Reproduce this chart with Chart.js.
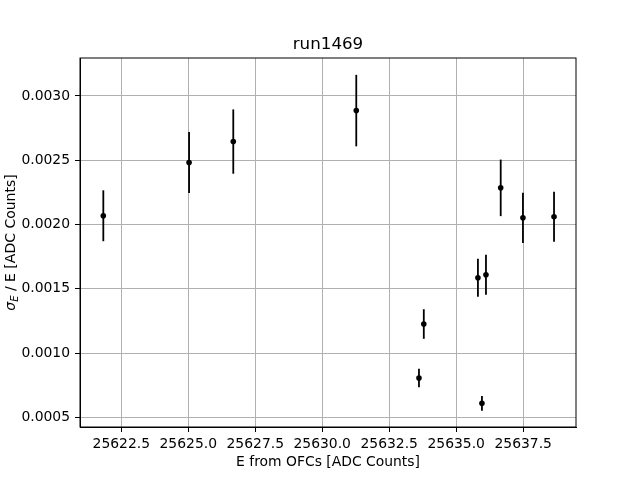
<!DOCTYPE html>
<html>
<head>
<meta charset="utf-8">
<script src="https://cdn.jsdelivr.net/npm/chart.js@4/dist/chart.umd.min.js"></script>
<style>
  html, body { margin: 0; padding: 0; background: #fff; }
  #wrap { width: 640px; height: 480px; }
</style>
</head>
<body>
<div id="wrap"><canvas id="myChart" width="640" height="480"></canvas></div>
<script>
// values
const energies = [25621.83, 25625.03, 25626.68, 25631.27, 25633.61, 25633.79,
                  25635.81, 25635.96, 25636.11, 25636.66, 25637.49, 25638.65];
const resolution = [0.002068, 0.002482, 0.002645, 0.002886, 0.000806, 0.001226,
                    0.001586, 0.000609, 0.001609, 0.002285, 0.002052, 0.002060];
const resolutionErr = [0.000198, 0.000237, 0.000250, 0.000278, 0.000072, 0.000115,
                       0.000147, 0.000058, 0.000156, 0.000220, 0.000195, 0.000195];

const xTicks = [25622.5, 25625.0, 25627.5, 25630.0, 25632.5, 25635.0, 25637.5];
const yTicks = [0.0005, 0.0010, 0.0015, 0.0020, 0.0025, 0.0030];

const FONT = "'DejaVu Sans', sans-serif";
const TITLE = "run1469";

const points = energies.map((e, i) => ({ x: e, y: resolution[i] }));

// vertical error bars, drawn through the chart scales
const errorBars = {
  id: "errorBars",
  beforeDatasetsDraw(chart) {
    const { ctx, scales } = chart;
    ctx.save();
    ctx.strokeStyle = "#000";
    ctx.lineWidth = 1.8;
    points.forEach((p, i) => {
      const px = scales.x.getPixelForValue(p.x);
      const y1 = scales.y.getPixelForValue(p.y - resolutionErr[i]);
      const y2 = scales.y.getPixelForValue(p.y + resolutionErr[i]);
      ctx.beginPath();
      ctx.moveTo(px, y1);
      ctx.lineTo(px, y2);
      ctx.stroke();
    });
    ctx.restore();
  },
};

// title centred over the plot area, and y label with subscript
const texts = {
  id: "texts",
  afterDraw(chart) {
    const { ctx, chartArea } = chart;
    ctx.save();
    ctx.fillStyle = "#000";
    ctx.textAlign = "center";
    ctx.textBaseline = "alphabetic";
    ctx.font = "16.7px " + FONT;
    ctx.fillText(TITLE, (chartArea.left + chartArea.right) / 2, 49);
    ctx.restore();

    const cy = (chartArea.top + chartArea.bottom) / 2;
    ctx.save();
    ctx.translate(15, cy);
    ctx.rotate(-Math.PI / 2);
    ctx.fillStyle = "#000";
    ctx.textBaseline = "alphabetic";
    const big = "14px " + FONT;
    const bigIt = "italic 14px " + FONT;
    const small = "italic 10px " + FONT;
    const rest = " / E [ADC Counts]";
    ctx.font = bigIt; const w1 = ctx.measureText("σ").width;
    ctx.font = small; const w2 = ctx.measureText("E").width;
    ctx.font = big; const w3 = ctx.measureText(rest).width;
    let x = -(w1 + w2 + w3) / 2;
    ctx.font = bigIt; ctx.fillText("σ", x, 0); x += w1;
    ctx.font = small; ctx.fillText("E", x, 3); x += w2;
    ctx.font = big; ctx.fillText(rest, x, 0);
    ctx.restore();
  },
};

const ctx = document.getElementById("myChart");

new Chart(ctx, {
  type: "scatter",
  data: {
    datasets: [
      {
        data: points,
        backgroundColor: "#000",
        borderColor: "#000",
        borderWidth: 0,
        pointRadius: 2.8,
        pointHoverRadius: 2.8,
      },
    ],
  },
  options: {
    responsive: false,
    animation: false,
    layout: { padding: { left: 0, right: 64, top: 58, bottom: 0 } },
    plugins: {
      legend: { display: false },
      tooltip: { enabled: false },
      title: { display: false },
    },
    scales: {
      x: {
        type: "linear",
        min: 25620.96,
        max: 25639.47,
        afterBuildTicks: (scale) => { scale.ticks = xTicks.map((v) => ({ value: v })); },
        afterFit: (scale) => { scale.height = 53; },
        ticks: {
          color: "#000",
          font: { family: FONT, size: 13.9 },
          padding: 4,
          maxRotation: 0,
          autoSkip: false,
          callback: (v) => Number(v).toFixed(1),
        },
        grid: { color: "#b0b0b0", lineWidth: 1, tickLength: 5, tickColor: "#000" },
        border: { color: "#000", width: 1 },
        title: {
          display: true,
          text: "E from OFCs [ADC Counts]",
          color: "#000",
          font: { family: FONT, size: 13.9 },
          padding: { top: 0, bottom: 9 },
        },
      },
      y: {
        type: "linear",
        min: 0.000425,
        max: 0.003295,
        afterBuildTicks: (scale) => { scale.ticks = yTicks.map((v) => ({ value: v })); },
        afterFit: (scale) => { scale.width = 80; },
        ticks: {
          color: "#000",
          font: { family: FONT, size: 13.9 },
          padding: 5,
          autoSkip: false,
          callback: (v) => Number(v).toFixed(4),
        },
        grid: { color: "#b0b0b0", lineWidth: 1, tickLength: 5, tickColor: "#000" },
        border: { color: "#000", width: 1 },
      },
    },
  },
  plugins: [errorBars, texts, {
    id: "frame",
    afterDraw(chart) {
      const { ctx, chartArea: a } = chart;
      ctx.save();
      ctx.strokeStyle = "#000";
      ctx.lineWidth = 1;
      ctx.strokeRect(a.left, a.top, a.right - a.left, a.bottom - a.top);
      ctx.restore();
    },
  }],
});
</script>
</body>
</html>
